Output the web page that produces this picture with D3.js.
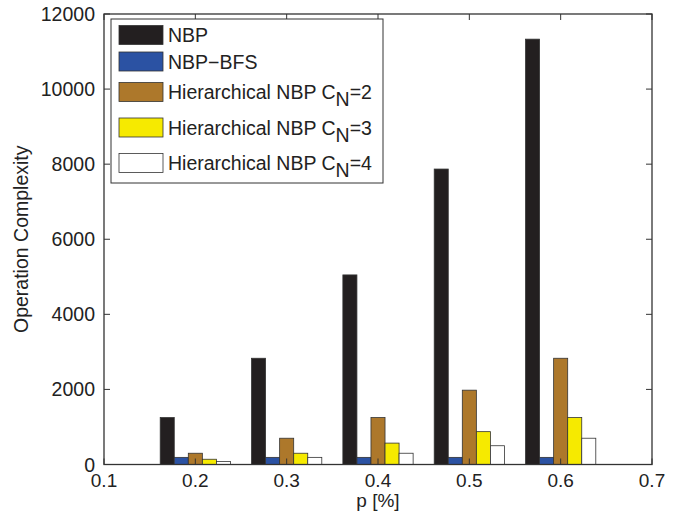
<!DOCTYPE html>
<html>
<head>
<meta charset="utf-8">
<script src="https://cdn.jsdelivr.net/npm/d3@7"></script>
<style>
  html, body { margin: 0; padding: 0; background: #fff; }
  svg { display: block; }
  text { font-family: "Liberation Sans", Arial, Helvetica, sans-serif; fill: #222; }
</style>
</head>
<body>
<svg id="chart" width="688" height="515"></svg>
<script>
// ---- data ----
const categories = [0.2, 0.3, 0.4, 0.5, 0.6];
const nbp       = [1250, 2830, 5050, 7870, 11330];
const nbpBfs    = [190, 190, 190, 190, 190];
const hier2     = [300, 700, 1250, 1980, 2830];
const hier3     = [140, 300, 570, 875, 1250];
const hier4     = [80, 190, 300, 500, 700];
const seriesNames = ["NBP", "NBP\u2212BFS", "Hierarchical NBP C_N=2", "Hierarchical NBP C_N=3", "Hierarchical NBP C_N=4"];
const seriesColors = ["#231f20", "#2b52a3", "#ad782b", "#f6ea00", "#ffffff"];
const xTicks = [0.1, 0.2, 0.3, 0.4, 0.5, 0.6, 0.7];
const yTicks = [0, 2000, 4000, 6000, 8000, 10000, 12000];
const xLabel = "p [%]";
const yLabel = "Operation Complexity";

const seriesValues = [nbp, nbpBfs, hier2, hier3, hier4];

// ---- layout ----
const svg = d3.select("#chart");
const L = 104, R = 652, T = 14, B = 464.5;
const x = d3.scaleLinear().domain([0.1, 0.7]).range([L, R]);
const y = d3.scaleLinear().domain([0, 12000]).range([B, T]);

const nS = seriesValues.length;
const groupW = Math.min(0.8, nS / (nS + 1.5)) * 0.1; // in data units
const barW = groupW / nS;

// bars
const g = svg.append("g");
seriesValues.forEach((vals, si) => {
  g.selectAll(null)
    .data(vals.map((v, i) => ({ c: categories[i], v })))
    .enter().append("rect")
    .attr("x", d => x(d.c - groupW / 2 + si * barW))
    .attr("width", d => x(d.c - groupW / 2 + (si + 1) * barW) - x(d.c - groupW / 2 + si * barW))
    .attr("y", d => y(d.v))
    .attr("height", d => y(0) - y(d.v))
    .attr("fill", seriesColors[si])
    .attr("stroke", "#333")
    .attr("stroke-width", 0.8);
});

// axes box and ticks (inward, all 4 sides)
const axisColor = "#333";
const tk = 6;
const ax = svg.append("g");
ax.append("rect").attr("x", L).attr("y", T).attr("width", R - L).attr("height", B - T)
  .attr("fill", "none").attr("stroke", axisColor).attr("stroke-width", 1.3);

xTicks.forEach(t => {
  ax.append("line").attr("x1", x(t)).attr("x2", x(t)).attr("y1", B).attr("y2", B - tk).attr("stroke", axisColor);
  ax.append("line").attr("x1", x(t)).attr("x2", x(t)).attr("y1", T).attr("y2", T + tk).attr("stroke", axisColor);
  ax.append("text").attr("x", x(t)).attr("y", 487).attr("text-anchor", "middle")
    .attr("font-size", 19).text(d3.format(".1f")(t));
});
yTicks.forEach(t => {
  ax.append("line").attr("x1", L).attr("x2", L + tk).attr("y1", y(t)).attr("y2", y(t)).attr("stroke", axisColor);
  ax.append("line").attr("x1", R).attr("x2", R - tk).attr("y1", y(t)).attr("y2", y(t)).attr("stroke", axisColor);
  ax.append("text").attr("x", 95).attr("y", y(t) + 7).attr("text-anchor", "end")
    .attr("font-size", 19.5).text(t);
});

// axis labels
svg.append("text").attr("x", (L + R) / 2).attr("y", 507).attr("text-anchor", "middle")
  .attr("font-size", 19).text(xLabel);
svg.append("text").attr("transform", `translate(28,${(T + B) / 2}) rotate(-90)`)
  .attr("text-anchor", "middle").attr("font-size", 19.5).text(yLabel);

// legend
const lg = svg.append("g");
lg.append("rect").attr("x", 111).attr("y", 19).attr("width", 272).attr("height", 164)
  .attr("fill", "#fff").attr("stroke", axisColor).attr("stroke-width", 1);
const rowCenters = [35, 61.5, 92, 127.5, 163];
seriesNames.forEach((name, i) => {
  const cy = rowCenters[i];
  lg.append("rect").attr("x", 119).attr("y", cy - 9.5).attr("width", 44).attr("height", 19)
    .attr("fill", seriesColors[i]).attr("stroke", "#333").attr("stroke-width", 0.8);
  const txt = lg.append("text").attr("x", 168).attr("y", cy + 7).attr("font-size", 19.5);
  const m = name.match(/^(.*)C_N(=\d)$/);
  if (m) {
    txt.append("tspan").text(m[1] + "C");
    txt.append("tspan").attr("dy", 7).text("N");
    txt.append("tspan").attr("dy", -7).text(m[2]);
  } else {
    txt.text(name);
  }
});
</script>
</body>
</html>
